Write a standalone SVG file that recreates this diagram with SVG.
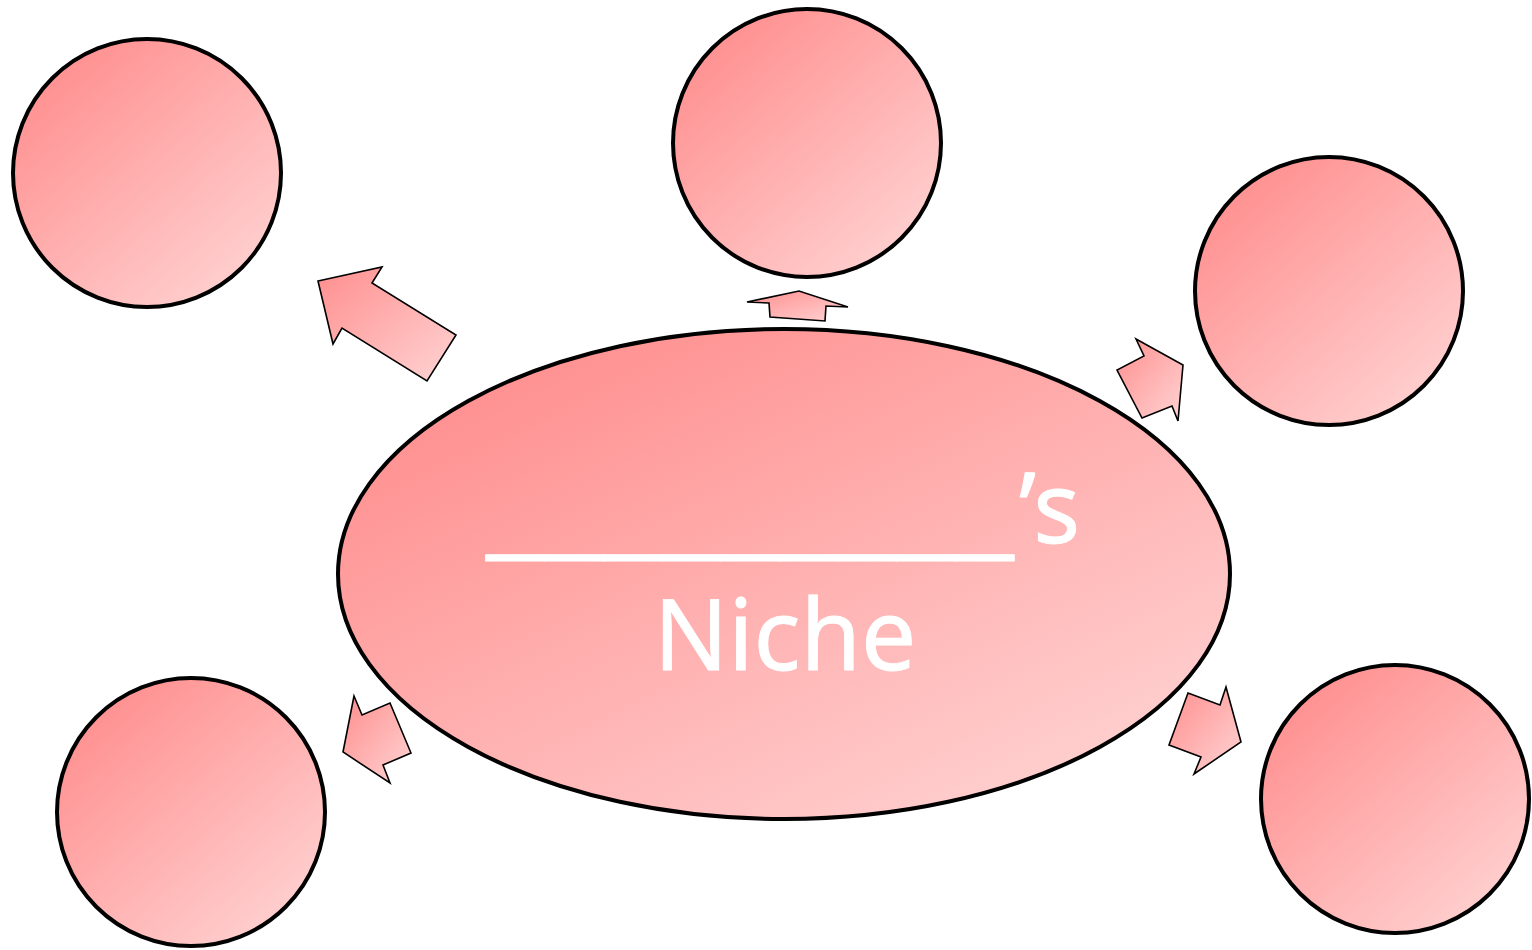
<svg xmlns="http://www.w3.org/2000/svg" width="1532" height="950" viewBox="0 0 1532 950">
<defs>
<linearGradient id="g" x1="0.12" y1="0.08" x2="0.88" y2="0.95">
<stop offset="0" stop-color="#ff8e8e"/>
<stop offset="1" stop-color="#ffd2d2"/>
</linearGradient>
<linearGradient id="ga" x1="0" y1="0" x2="1" y2="1">
<stop offset="0" stop-color="#ff8e8e"/>
<stop offset="1" stop-color="#ffd4d4"/>
</linearGradient>
</defs>
<style>
.n{fill:url(#g);stroke:#000;stroke-width:4}
.a{fill:url(#ga);stroke:#000;stroke-width:1.6;stroke-linejoin:miter}
.t{font-family:"Noto Sans","Open Sans",sans-serif;font-size:98px;fill:#fff;stroke:#fff;stroke-width:0.8}
</style>
<rect width="1532" height="950" fill="#fff"/>
<g id="connectors">
<polygon class="a" points="318,281 382,267 372,283 456,335 427,381 342,328 333,344"/>
<polygon class="a" points="747,302 799,291 848,307 826,306 825,321 770,317 769,303"/>
<polygon class="a" points="1136,339 1183,365 1178,421 1172,406 1142,418 1117,370 1144,356"/>
<polygon class="a" points="354,696 362,715 390,703 411,753 383,765 390,783 343,752"/>
<polygon class="a" points="1188,693 1220,705 1226,687 1241,742 1194,774 1201,757 1169,745"/>
</g>
<g id="center">
<ellipse class="n" cx="784" cy="574" rx="446" ry="245" stroke-width="4.5"/>
<text class="t" x="486" y="546" textLength="528" lengthAdjust="spacingAndGlyphs" stroke-width="1.5">_________</text>
<text class="t" x="1019" y="543">’s</text>
<text class="t" x="785" y="670" text-anchor="middle">Niche</text>
</g>
<g id="c1"><circle class="n" cx="147" cy="173" r="134"/></g>
<g id="c2"><circle class="n" cx="807" cy="143" r="134"/></g>
<g id="c3"><circle class="n" cx="1329" cy="291" r="134"/></g>
<g id="c4"><circle class="n" cx="191" cy="812" r="134"/></g>
<g id="c5"><circle class="n" cx="1395" cy="799" r="134"/></g>
</svg>
